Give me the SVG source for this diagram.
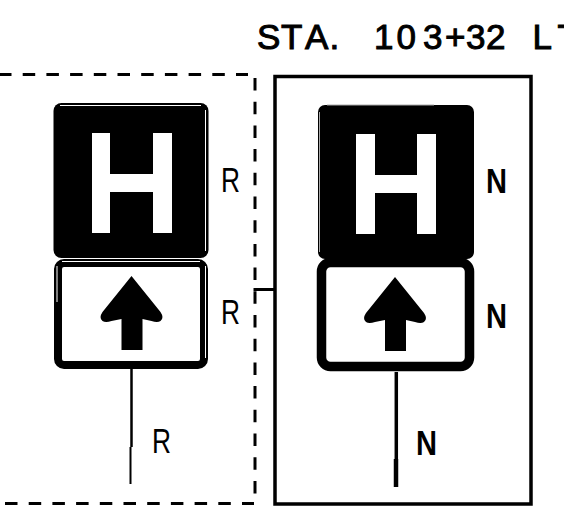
<svg xmlns="http://www.w3.org/2000/svg" width="564" height="518" viewBox="0 0 564 518">
<style>
text{font-family:"Liberation Sans",Arial,sans-serif;fill:#000}
.r{font-size:35px}
.n{font-size:35px;font-weight:bold}
.t{font-size:35px;stroke:#000;stroke-width:1px}
.dash{fill:none;stroke:#000;stroke-width:3;stroke-dasharray:12.500 11.200}
.line{fill:none;stroke:#000}
.hl{fill:none;stroke:#fff;stroke-width:1}
</style>
<defs>
<path id="arrow" d="M0 0L29 36Q33 42 29 45Q26 47 20 45L11 43V74H-10V43L-20 45Q-26 47 -29 45Q-33 42 -29 36Z" fill="#000"/>
</defs>
<rect width="564" height="518" fill="#fff"/>
<g id="connectors">
<path class="dash" d="M-1 74.500H248"/>
<path class="dash" d="M255 78V495"/>
<path class="dash" d="M5 503.500H254"/>
<path class="line" stroke-width="3" d="M253.500 289.500H275"/>
<path class="line" stroke-width="2.500" d="M131.500 369V447"/>
<path class="line" stroke-width="2" d="M130.500 447V484"/>
<path class="line" stroke-width="3.500" d="M396.300 372V459"/>
<path class="line" stroke-width="4.500" d="M396 459V487"/>
</g>
<g id="title"><text class="t" x="257 281 305 329.500 360 374 396.500 423 445 466 486 520 532.500 557.500" y="49">STA. 103+32 LT</text></g>
<g id="frame-right"><rect x="275" y="76.500" width="256" height="427.500" fill="none" stroke="#000" stroke-width="3.500"/></g>
<g id="sign-h-left">
<rect x="53.500" y="103" width="155" height="155" rx="8" fill="#000"/>
<path class="hl" d="M60 105.500H201M205.500 110V251"/>
<path d="M92 133H110V174H153V133H172V233H153V192H110V233H92Z" fill="#fff"/>
<text class="r" x="221" y="192" textLength="19" lengthAdjust="spacingAndGlyphs">R</text>
</g>
<g id="sign-arrow-left">
<rect x="58" y="263" width="146" height="102" rx="6" fill="#fff" stroke="#000" stroke-width="8"/>
<path class="hl" d="M62 261.500H200M57 266V302M205.500 266V358"/>
<use href="#arrow" x="131.500" y="276"/>
<text class="r" x="221" y="324" textLength="19" lengthAdjust="spacingAndGlyphs">R</text>
</g>
<g id="post-label-left"><text class="r" x="152" y="453" textLength="19" lengthAdjust="spacingAndGlyphs">R</text></g>
<g id="sign-h-right">
<rect x="318" y="105" width="156" height="154" rx="7" fill="#000"/>
<path d="M327 105H434M319.500 112V252" fill="none" stroke="#aaa" stroke-width="1"/>
<path d="M356 134H375V175H417V134H436V234H417V193H375V234H356Z" fill="#fff"/>
<text class="n" x="486" y="193" textLength="21" lengthAdjust="spacingAndGlyphs">N</text>
</g>
<g id="sign-arrow-right">
<rect x="321.500" y="262.500" width="148" height="104" rx="9" fill="#fff" stroke="#000" stroke-width="9.500"/>
<use href="#arrow" x="395" y="277"/>
<text class="n" x="486" y="328" textLength="21" lengthAdjust="spacingAndGlyphs">N</text>
</g>
<g id="post-label-right"><text class="n" x="416" y="455" textLength="21" lengthAdjust="spacingAndGlyphs">N</text></g>
</svg>
